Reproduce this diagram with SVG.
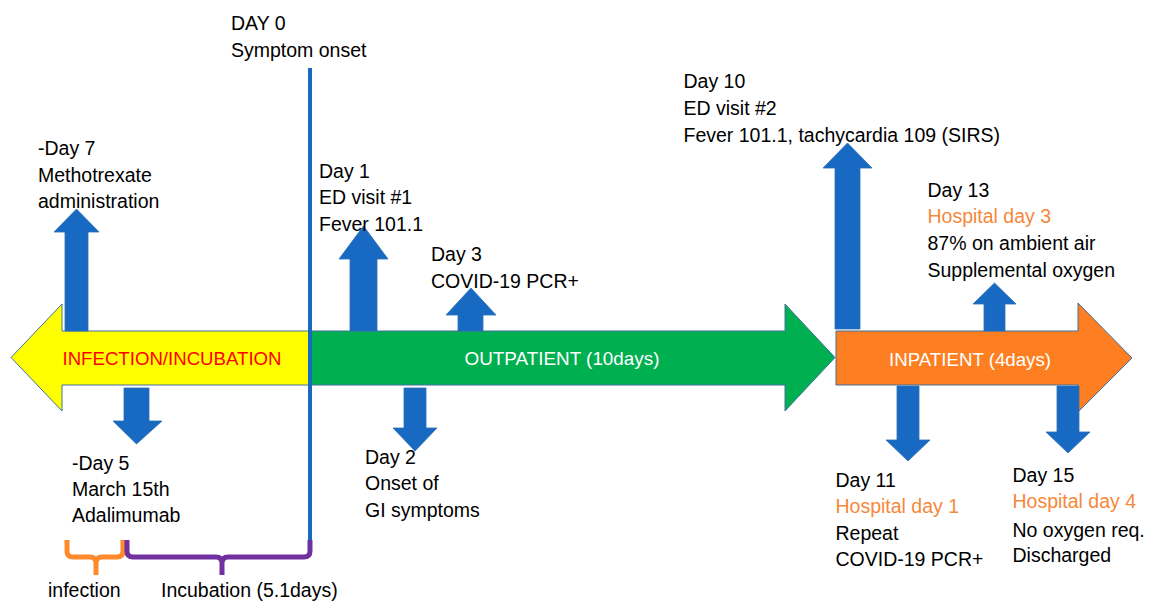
<svg xmlns="http://www.w3.org/2000/svg" width="1150" height="603" viewBox="0 0 1150 603">
<style>
text{font-family:"Liberation Sans",Arial,sans-serif;font-size:19.5px;fill:#000}
.or{fill:#F5883A}
.lbl{font-size:19px}
.phase{stroke:#41719C;stroke-width:1}
.ev{fill:#1769C2;stroke:#2F6FB5;stroke-width:0.8}
.brace{fill:none;stroke-width:5;stroke-linejoin:round}
</style>
<rect width="1150" height="603" fill="#fff"/>
<g id="phase-infection">
<polygon class="phase" fill="#FFFF00" points="11,357.5 62,304 62,331 310,331 310,385 62,385 62,411"/>
<text class="lbl" x="172" y="365" text-anchor="middle" fill="#FF0000" style="fill:#FF0000" textLength="219" lengthAdjust="spacingAndGlyphs">INFECTION/INCUBATION</text>
</g>
<g id="phase-outpatient">
<polygon class="phase" fill="#00B050" points="311,331 785,331 785,304 835,357.5 785,411 785,385 311,385"/>
<text class="lbl" x="562" y="365" text-anchor="middle" style="fill:#fff" textLength="195" lengthAdjust="spacingAndGlyphs">OUTPATIENT (10days)</text>
</g>
<g id="phase-inpatient">
<polygon class="phase" fill="#FD7F22" points="836,331 1078,331 1078,303 1132,358 1078,412 1078,385 836,385"/>
<text class="lbl" x="970" y="366" text-anchor="middle" style="fill:#fff" textLength="162" lengthAdjust="spacingAndGlyphs">INPATIENT (4days)</text>
</g>
<g id="connectors">
<rect id="day0-line" x="308" y="68" width="4" height="473" fill="#1769C2"/>
<polygon class="ev" points="76.5,209 99,232 88,232 88,331 65,331 65,232 54,232"/>
<polygon class="ev" points="363.5,226 388,259 377,259 377,331 350,331 350,259 339,259"/>
<polygon class="ev" points="471,288 496,315 483,315 483,331 458,331 458,315 446,315"/>
<polygon class="ev" points="847.5,143 872,168 860,168 860,329 835,329 835,168 823,168"/>
<polygon class="ev" points="994.5,283 1016,304 1005,304 1005,331 984,331 984,304 973,304"/>
<polygon class="ev" points="124,388 149,388 149,421 162,421 136.5,444 113,421 124,421"/>
<polygon class="ev" points="404,388 426,388 426,428 437,428 415,451 393,428 404,428"/>
<polygon class="ev" points="897,386 919,386 919,440 930,440 908,461 886,440 897,440"/>
<polygon class="ev" points="1057,386 1079,386 1079,432 1090,432 1068,453 1046,432 1057,432"/>
<path class="brace" stroke="#FF8A2B" d="M67,540 L67,551 Q67,557 73,557 L90,557 Q96,557 96,563 L96,575 M96,563 Q96,557 102,557 L117,557 Q123,557 123,551 L123,540"/>
<path class="brace" stroke="#7030A0" d="M127,540 L127,551 Q127,557 133,557 L216,557 Q222,557 222,563 L222,575 M222,563 Q222,557 228,557 L304,557 Q310,557 310,551 L310,540"/>
</g>
<g id="ev-day0"><text x="231" y="30">DAY 0</text><text x="231" y="57">Symptom onset</text></g>
<g id="ev-day-7"><text x="38" y="155">-Day 7</text><text x="38" y="181.7">Methotrexate</text><text x="38" y="208.4">administration</text></g>
<g id="ev-day1"><text x="319" y="177.7">Day 1</text><text x="319" y="204.3">ED visit #1</text><text x="319" y="231">Fever 101.1</text></g>
<g id="ev-day3"><text x="431" y="261">Day 3</text><text x="431" y="288">COVID-19 PCR+</text></g>
<g id="ev-day10"><text x="683.5" y="88.3">Day 10</text><text x="683.5" y="115">ED visit #2</text><text x="683.5" y="141.7">Fever 101.1, tachycardia 109 (SIRS)</text></g>
<g id="ev-day13"><text x="927.5" y="196.7">Day 13</text><text x="927.5" y="223.3" class="or">Hospital day 3</text><text x="927.5" y="250">87% on ambient air</text><text x="927.5" y="276.7">Supplemental oxygen</text></g>
<g id="ev-day-5"><text x="72" y="470">-Day 5</text><text x="72" y="496">March 15th</text><text x="72" y="522">Adalimumab</text></g>
<g id="ev-day2"><text x="365" y="464.3">Day 2</text><text x="365" y="490.3">Onset of</text><text x="365" y="516.7">GI symptoms</text></g>
<g id="ev-day11"><text x="835.5" y="487.3">Day 11</text><text x="835.5" y="513" class="or">Hospital day 1</text><text x="835.5" y="540">Repeat</text><text x="835.5" y="566">COVID-19 PCR+</text></g>
<g id="ev-day15"><text x="1012.5" y="481.7">Day 15</text><text x="1012.5" y="508.3" class="or">Hospital day 4</text><text x="1012.5" y="536.7">No oxygen req.</text><text x="1012.5" y="562.3">Discharged</text></g>
<g id="label-infection"><text x="48" y="597">infection</text></g>
<g id="label-incubation"><text x="161" y="597">Incubation (5.1days)</text></g>
</svg>
